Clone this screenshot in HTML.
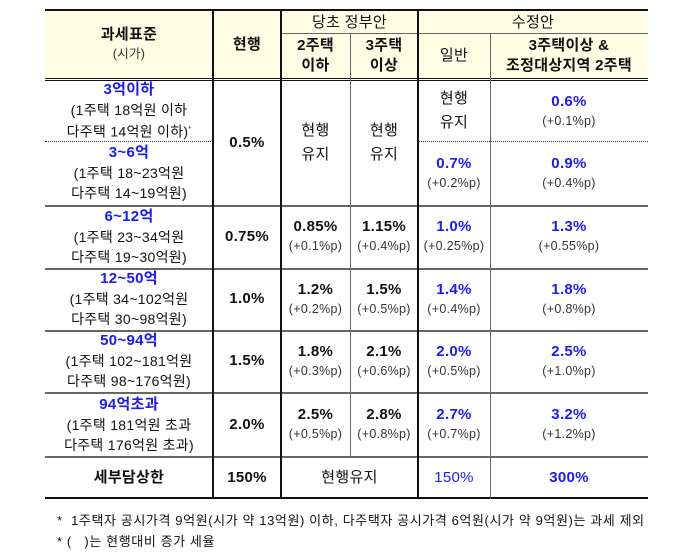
<!DOCTYPE html>
<html><head><meta charset="utf-8"><style>
body{margin:0;width:680px;height:560px;background:#fff;position:relative;font-family:"Liberation Sans","Noto Sans CJK KR",sans-serif;color:#111;overflow:hidden}
.c{position:absolute;display:flex;flex-direction:column;align-items:center;justify-content:center;text-align:center;font-size:14px;line-height:20px;letter-spacing:0.3px}
.h{background:#fffde4}
.b{font-weight:bold;font-size:15px}
.bl{color:#1a1aff}
.s{font-size:12.5px;color:#333;line-height:19px;font-weight:normal}
.l{position:absolute;background:#111}
.g{position:absolute;background:#666}
.f{position:absolute;left:57px;font-size:13px;color:#111;letter-spacing:0.6px;white-space:nowrap}
</style></head><body>
<div class="c h" style="left:45px;top:11px;width:168px;height:67px"><span class="b">과세표준</span><span class="s">(시가)</span></div>
<div class="c h b" style="left:213px;top:11px;width:68px;height:67px">현행</div>
<div class="c h" style="left:281px;top:11px;width:137px;height:23px;font-size:15px">당초 정부안</div>
<div class="c h b" style="left:281px;top:34px;width:69px;height:44px">2주택<br>이하</div>
<div class="c h b" style="left:350px;top:34px;width:68px;height:44px">3주택<br>이상</div>
<div class="c h" style="left:418px;top:11px;width:230px;height:23px;font-size:15px">수정안</div>
<div class="c h" style="left:418px;top:34px;width:72px;height:44px;font-size:15px">일반</div>
<div class="c h b" style="left:490px;top:34px;width:158px;height:44px">3주택이상 &amp;<br>조정대상지역 2주택</div>

<div class="c" style="left:45px;top:81px;width:168px;height:60px"><span class="b bl">3억이하</span><span>(1주택 18억원 이하</span><span>다주택 14억원 이하)<sup style="font-size:7px">*</sup></span></div>
<div class="c" style="left:45px;top:141px;width:168px;height:64px"><span class="b bl">3~6억</span><span>(1주택 18~23억원</span><span>다주택 14~19억원)</span></div>
<div class="c b" style="left:213px;top:81px;width:68px;height:124px">0.5%</div>
<div class="c" style="left:281px;top:81px;width:69px;height:124px;font-size:15px;line-height:24px">현행<br>유지</div>
<div class="c" style="left:350px;top:81px;width:68px;height:124px;font-size:15px;line-height:24px">현행<br>유지</div>
<div class="c" style="left:418px;top:81px;width:72px;height:60px;font-size:15px;line-height:24px">현행<br>유지</div>
<div class="c" style="left:490px;top:81px;width:158px;height:60px"><span class="b bl">0.6%</span><span class="s">(+0.1%p)</span></div>
<div class="c" style="left:418px;top:141px;width:72px;height:64px"><span class="b bl">0.7%</span><span class="s">(+0.2%p)</span></div>
<div class="c" style="left:490px;top:141px;width:158px;height:64px"><span class="b bl">0.9%</span><span class="s">(+0.4%p)</span></div>

<div class="c" style="left:45px;top:205px;width:168px;height:63px"><span class="b bl">6~12억</span><span>(1주택 23~34억원</span><span>다주택 19~30억원)</span></div>
<div class="c b" style="left:213px;top:205px;width:68px;height:63px">0.75%</div>
<div class="c" style="left:281px;top:205px;width:69px;height:63px"><span class="b">0.85%</span><span class="s">(+0.1%p)</span></div>
<div class="c" style="left:350px;top:205px;width:68px;height:63px"><span class="b">1.15%</span><span class="s">(+0.4%p)</span></div>
<div class="c" style="left:418px;top:205px;width:72px;height:63px"><span class="b bl">1.0%</span><span class="s">(+0.25%p)</span></div>
<div class="c" style="left:490px;top:205px;width:158px;height:63px"><span class="b bl">1.3%</span><span class="s">(+0.55%p)</span></div>

<div class="c" style="left:45px;top:268px;width:168px;height:62px"><span class="b bl">12~50억</span><span>(1주택 34~102억원</span><span>다주택 30~98억원)</span></div>
<div class="c b" style="left:213px;top:268px;width:68px;height:62px">1.0%</div>
<div class="c" style="left:281px;top:268px;width:69px;height:62px"><span class="b">1.2%</span><span class="s">(+0.2%p)</span></div>
<div class="c" style="left:350px;top:268px;width:68px;height:62px"><span class="b">1.5%</span><span class="s">(+0.5%p)</span></div>
<div class="c" style="left:418px;top:268px;width:72px;height:62px"><span class="b bl">1.4%</span><span class="s">(+0.4%p)</span></div>
<div class="c" style="left:490px;top:268px;width:158px;height:62px"><span class="b bl">1.8%</span><span class="s">(+0.8%p)</span></div>

<div class="c" style="left:45px;top:330px;width:168px;height:62px"><span class="b bl">50~94억</span><span>(1주택 102~181억원</span><span>다주택 98~176억원)</span></div>
<div class="c b" style="left:213px;top:330px;width:68px;height:62px">1.5%</div>
<div class="c" style="left:281px;top:330px;width:69px;height:62px"><span class="b">1.8%</span><span class="s">(+0.3%p)</span></div>
<div class="c" style="left:350px;top:330px;width:68px;height:62px"><span class="b">2.1%</span><span class="s">(+0.6%p)</span></div>
<div class="c" style="left:418px;top:330px;width:72px;height:62px"><span class="b bl">2.0%</span><span class="s">(+0.5%p)</span></div>
<div class="c" style="left:490px;top:330px;width:158px;height:62px"><span class="b bl">2.5%</span><span class="s">(+1.0%p)</span></div>

<div class="c" style="left:45px;top:392px;width:168px;height:65px"><span class="b bl">94억초과</span><span>(1주택 181억원 초과</span><span>다주택 176억원 초과)</span></div>
<div class="c b" style="left:213px;top:392px;width:68px;height:65px">2.0%</div>
<div class="c" style="left:281px;top:392px;width:69px;height:65px"><span class="b">2.5%</span><span class="s">(+0.5%p)</span></div>
<div class="c" style="left:350px;top:392px;width:68px;height:65px"><span class="b">2.8%</span><span class="s">(+0.8%p)</span></div>
<div class="c" style="left:418px;top:392px;width:72px;height:65px"><span class="b bl">2.7%</span><span class="s">(+0.7%p)</span></div>
<div class="c" style="left:490px;top:392px;width:158px;height:65px"><span class="b bl">3.2%</span><span class="s">(+1.2%p)</span></div>

<div class="c b" style="left:45px;top:458px;width:168px;height:40px">세부담상한</div>
<div class="c b" style="left:213px;top:458px;width:68px;height:40px">150%</div>
<div class="c" style="left:281px;top:458px;width:137px;height:40px;font-size:15px">현행유지</div>
<div class="c bl" style="left:418px;top:458px;width:72px;height:40px;font-size:15px">150%</div>
<div class="c b bl" style="left:490px;top:458px;width:158px;height:40px">300%</div>

<div class="l" style="left:45px;top:9px;width:603px;height:2px"></div>
<div class="g" style="left:281px;top:33px;width:367px;height:1px"></div>
<div class="l" style="left:45px;top:78px;width:603px;height:1px"></div>
<div class="l" style="left:45px;top:80px;width:603px;height:1px"></div>
<div style="position:absolute;left:45px;top:141px;width:168px;border-top:1px dotted #333"></div>
<div style="position:absolute;left:418px;top:141px;width:230px;border-top:1px dotted #333"></div>
<div class="g" style="left:45px;top:205px;width:603px;height:2px"></div>
<div class="g" style="left:45px;top:268px;width:603px;height:2px"></div>
<div class="g" style="left:45px;top:330px;width:603px;height:2px"></div>
<div class="g" style="left:45px;top:392px;width:603px;height:2px"></div>
<div class="g" style="left:45px;top:456px;width:603px;height:2px"></div>
<div class="l" style="left:45px;top:497px;width:603px;height:2px"></div>
<div class="l" style="left:212px;top:10px;width:2px;height:488px"></div>
<div class="l" style="left:280px;top:10px;width:2px;height:488px"></div>
<div class="g" style="left:350px;top:34px;width:1px;height:423px"></div>
<div class="l" style="left:417px;top:10px;width:2px;height:488px"></div>
<div class="g" style="left:490px;top:34px;width:1px;height:464px"></div>

<div class="f" style="top:510px">* &nbsp;1주택자 공시가격 9억원(시가 약 13억원) 이하, 다주택자 공시가격 6억원(시가 약 9억원)는 과세 제외</div>
<div class="f" style="top:531px">* ( &nbsp;&nbsp;)는 현행대비 증가 세율</div>
</body></html>
